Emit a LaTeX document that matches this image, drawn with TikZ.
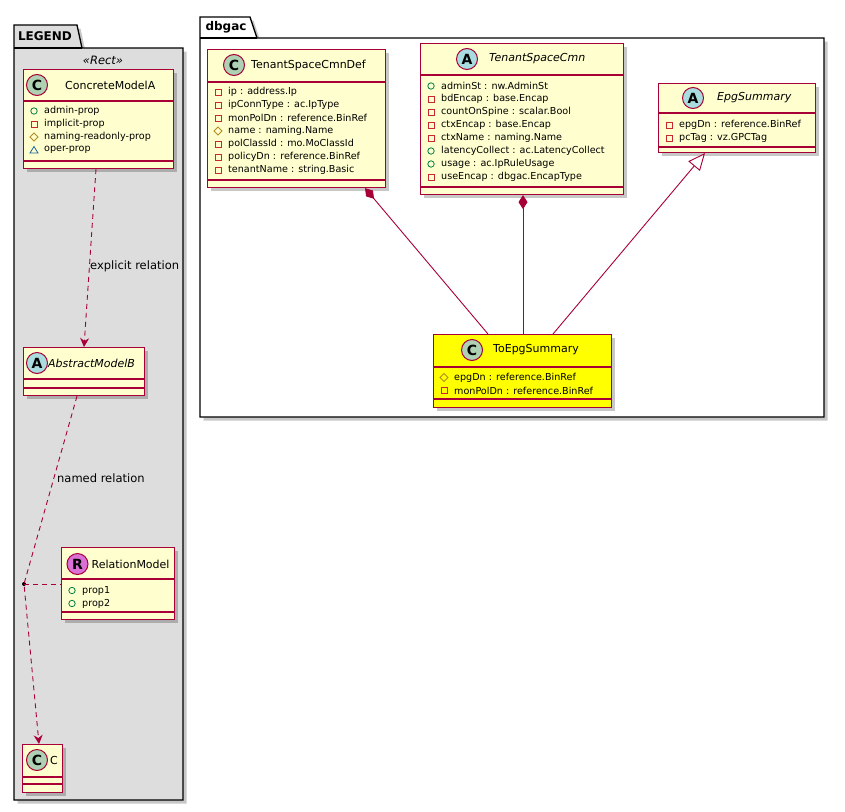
\documentclass[tikz,border=0pt]{standalone}
\usepackage{fontspec}
\setmainfont{DejaVu Sans}
\usetikzlibrary{arrows.meta,shadows,calc}
\definecolor{bfill}{HTML}{FEFECE}
\definecolor{bord}{HTML}{A80036}
\definecolor{yel}{HTML}{FFFF00}
\definecolor{cspot}{HTML}{ADD1B2}
\definecolor{aspot}{HTML}{A9DCDF}
\definecolor{rspot}{HTML}{DA70D6}
\definecolor{legbg}{HTML}{DDDDDD}
\definecolor{pubc}{HTML}{038048}
\definecolor{privc}{HTML}{C82930}
\definecolor{protc}{HTML}{B38D22}
\definecolor{pkgc}{HTML}{1963A0}
\newcommand\mpub[2]{\draw[pubc,line width=.8pt] (#1,#2) circle (3.2);}
\newcommand\mpriv[2]{\draw[privc,line width=.8pt] (#1-3,#2-3) rectangle (#1+3,#2+3);}
\newcommand\mprot[2]{\draw[protc,line width=.8pt] (#1,#2-4) -- (#1+4,#2) -- (#1,#2+4) -- (#1-4,#2) -- cycle;}
\newcommand\mpkg[2]{\draw[pkgc,line width=.8pt] (#1,#2-3.5) -- (#1+4,#2+3) -- (#1-4,#2+3) -- cycle;}
% #1 name, #2 x1, #3 y1, #4 x2, #5 y2, #6 fill, #7 sep1, #8 sep2
\newcommand\ubox[8]{%
  \node[cls, fill=#6, anchor=north west, minimum width={#4-#2}, minimum height={#5-#3}] (#1) at (#2,#3) {};
  \draw[sepl] (#1.west |- 0,#7) -- (#1.east |- 0,#7);
  \draw[sepl] (#1.west |- 0,#8) -- (#1.east |- 0,#8);}
% #1 name, #2 x, #3 y, #4 colour, #5 letter
\newcommand\uspot[5]{\node[spot, fill=#4] (#1) at (#2,#3) {#5};}
% #1 prefix, #2 box left, #3 first y, #4 list type/text
\newcommand\uattrs[4]{%
  \foreach \t/\s [count=\i] in {#4} {
    \pgfmathsetmacro\yy{#3+13*(\i-1)}
    \pgfmathsetmacro\xx{#2+11}
    \pgfmathsetmacro\xt{#2+21}
    \csname m\t\endcsname{\xx}{\yy}
    \node[atxt, anchor=west] (#1-\i) at (\xt,\yy) {\s};
  }}
\begin{document}
\begin{tikzpicture}[x=1pt,y=-1pt,
  cls/.style={draw=bord, line width=1.1pt, inner sep=0pt, rectangle,
    drop shadow={shadow xshift=3.5pt, shadow yshift=-3.5pt, opacity=.22, fill=black}},
  sepl/.style={draw=bord, line width=1.1pt},
  spot/.style={circle, draw=bord, line width=1pt, minimum size=21pt, inner sep=0pt,
    font=\bfseries\fontsize{14}{14}\selectfont},
  cname/.style={anchor=west, inner sep=0pt, font=\fontsize{11}{13}\selectfont},
  aname/.style={anchor=west, inner sep=0pt, font=\itshape\fontsize{11}{13}\selectfont},
  atxt/.style={inner sep=0pt, font=\fontsize{9.6}{12}\selectfont},
  lbl/.style={anchor=west, inner sep=0pt, font=\fontsize{11.5}{13}\selectfont},
  pkgline/.style={draw=black, line width=1.3pt},
  pkgname/.style={inner sep=0pt, font=\bfseries\fontsize{12}{14}\selectfont},
  rel/.style={draw=bord, line width=0.9pt},
  dep/.style={rel, dash pattern=on 5pt off 4pt},
]
\useasboundingbox (0,0) rectangle (845,811);
% ---------------- packages
\fill[black, opacity=.22] (17.5,28.5) -- (80.5,28.5) -- (85.5,51.5) -- (186.5,51.5) -- (186.5,803.5) -- (17.5,803.5) -- cycle;
\draw[pkgline, fill=legbg] (14,25) -- (77,25) -- (82,48) -- (183,48) -- (183,800) -- (14,800) -- cycle;
\draw[pkgline] (14,48) -- (82,48);
\node[pkgname] (legname) at (45,36.5) {LEGEND};
\node[inner sep=0pt, font=\itshape\fontsize{11.5}{13}\selectfont] (stereo) at (103,60) {«Rect»};

\fill[black, opacity=.22] (203.5,20.5) -- (253.5,20.5) -- (260.5,41.5) -- (827.5,41.5) -- (827.5,420.5) -- (203.5,420.5) -- cycle;
\draw[pkgline, fill=white] (200,17) -- (250,17) -- (257,38) -- (824,38) -- (824,417) -- (200,417) -- cycle;
\draw[pkgline] (200,38) -- (257,38);
\node[pkgname] (dbname) at (226,27.5) {dbgac};

% ---------------- legend classes
\ubox{cma}{23}{69}{173}{168}{bfill}{101}{161}
\uspot{cmas}{37}{85}{cspot}{C}
\node[cname] (cman) at (65,85) {ConcreteModelA};
\uattrs{cma}{23}{111}{pub/admin-prop, priv/implicit-prop, prot/naming-readonly-prop, pkg/oper-prop}

\ubox{amb}{23}{347}{144}{395}{bfill}{379}{388}
\uspot{ambs}{37}{363}{aspot}{A}
\node[aname] (ambn) at (48,363) {AbstractModelB};

\ubox{rm}{61}{547}{174}{619}{bfill}{579}{612}
\uspot{rms}{77.5}{564}{rspot}{R}
\node[cname] (rmn) at (91.5,564) {RelationModel};
\uattrs{rm}{61}{590.5}{pub/prop1, pub/prop2}

\ubox{c}{22}{744}{62}{792}{bfill}{777}{784}
\uspot{cs}{37}{760}{cspot}{C}
\node[cname] (cn) at (50,760) {C};

% ---------------- dbgac classes
\ubox{tscd}{207}{49}{385}{187}{bfill}{82}{180}
\uspot{tscds}{234}{65}{cspot}{C}
\node[cname] (tscdn) at (251,65) {TenantSpaceCmnDef};
\uattrs{tscd}{207}{92}{priv/ip : address.Ip, priv/ipConnType : ac.IpType, priv/monPolDn : reference.BinRef, prot/name : naming.Name, priv/polClassId : mo.MoClassId, priv/policyDn : reference.BinRef, priv/tenantName : string.Basic}

\ubox{tsc}{420}{43}{623}{194}{bfill}{75}{187}
\uspot{tscs}{467}{59}{aspot}{A}
\node[aname] (tscn) at (489,59) {TenantSpaceCmn};
\uattrs{tsc}{420}{86}{pub/adminSt : nw.AdminSt, priv/bdEncap : base.Encap, priv/countOnSpine : scalar.Bool, priv/ctxEncap : base.Encap, priv/ctxName : naming.Name, pub/latencyCollect : ac.LatencyCollect, pub/usage : ac.IpRuleUsage, priv/useEncap : dbgac.EncapType}

\ubox{eps}{658}{83}{815}{152}{bfill}{113}{147}
\uspot{epss}{693}{98}{aspot}{A}
\node[aname] (epsn) at (717,98) {EpgSummary};
\uattrs{eps}{658}{125}{priv/epgDn : reference.BinRef, priv/pcTag : vz.GPCTag}

\ubox{teps}{433}{334}{611}{407}{yel}{367}{399}
\uspot{tepss}{472}{350}{cspot}{C}
\node[cname] (tepsn) at (493,350) {ToEpgSummary};
\uattrs{teps}{433}{377.5}{prot/epgDn : reference.BinRef, priv/monPolDn : reference.BinRef}

% ---------------- connectors
\draw[rel, {Diamond[length=14pt,width=9pt,fill=bord]}-] (tscd.south -| 365,0) -- (teps.north -| 488,0);
\draw[rel, {Diamond[length=14pt,width=9pt,fill=bord]}-] (tsc.south -| 523,0) -- (teps.north -| 523,0);
\draw[rel, {Triangle[open,length=17pt,width=15pt,fill=white]}-] (eps.south -| 705,0) -- (teps.north -| 553,0);

\draw[dep, -{Stealth[length=9pt,width=9pt,inset=3pt]}] (cma.south -| 96,0) -- (amb.north -| 84,0);
\node[lbl] (l1) at (90,266) {explicit relation};

\node[circle, fill=black, inner sep=0pt, minimum size=4pt] (dot) at (24,584) {};
\draw[dep, -{Stealth[length=9pt,width=9pt,inset=3pt]}] (amb.south -| 77,0) -- (dot.center) -- (c.north -| 39,0);
\draw[dep] (dot.center) -- (rm.west |- dot.center);
\node[lbl] (l2) at (57,478) {named relation};
\end{tikzpicture}
\end{document}
